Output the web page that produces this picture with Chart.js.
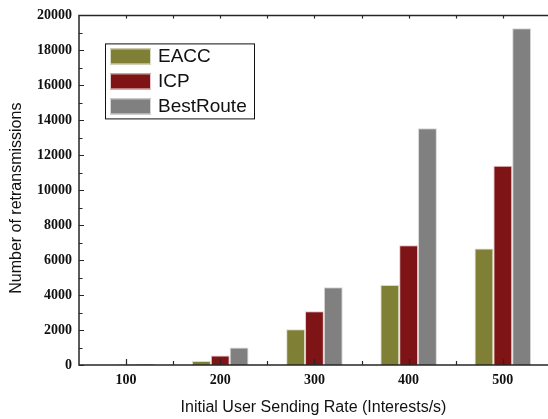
<!DOCTYPE html>
<html>
<head>
<meta charset="utf-8">
<script src="https://cdn.jsdelivr.net/npm/chart.js@4/dist/chart.umd.min.js"></script>
<style>
html,body{margin:0;padding:0;background:#fff;overflow:hidden;}
#wrap{width:548px;height:419px;position:relative;}
</style>
</head>
<body>
<div id="wrap"><canvas id="c" width="548" height="419"></canvas></div>
<script>
// ---- data ----
const rates = [100, 200, 300, 400, 500];
const eaccValues = [0, 230, 2050, 4570, 6660];
const icpValues = [30, 550, 3080, 6850, 11400];
const bestRouteValues = [60, 1000, 4450, 13550, 19270];
const seriesNames = ['EACC', 'ICP', 'BestRoute'];
const yTickValues = [0, 2000, 4000, 6000, 8000, 10000, 12000, 14000, 16000, 18000, 20000];
const xTickValues = [100, 200, 300, 400, 500];
const yTitle = 'Number of retransmissions';
const xTitle = 'Initial User Sending Rate (Interests/s)';

const fills = ['#7f7f35', '#7f1417', '#808080'];
const edges = ['#dcdcc6', '#e6c6c6', '#d6d6d6'];

function pts(vals){ return rates.map((r,i)=>({x:r, y:vals[i]})); }

const axisColor = '#262626';

const framePlugin = {
  id: 'frame',
  afterDatasetsDraw(chart){
    const ctx = chart.ctx, a = chart.chartArea;
    const xs = chart.scales.x, ys = chart.scales.y;
    ctx.save();
    ctx.strokeStyle = axisColor;
    ctx.lineWidth = 1.5;
    ctx.beginPath();
    ctx.moveTo(a.left, a.top); ctx.lineTo(a.left, a.bottom);
    ctx.moveTo(a.left - 0.75, a.bottom); ctx.lineTo(a.right + 2, a.bottom);
    ctx.moveTo(a.left - 0.75, a.top); ctx.lineTo(a.right + 2, a.top);
    ctx.stroke();
    ctx.lineWidth = 1.2;
    ctx.beginPath();
    for (let v = 0; v <= 20000; v += 1000) {
      const y = Math.round(ys.getPixelForValue(v)) + 0.5;
      const len = (v % 2000 === 0) ? 5 : 3.5;
      ctx.moveTo(a.left, y); ctx.lineTo(a.left + len, y);
    }
    for (let v = 100; v <= 550; v += 50) {
      const x = Math.round(xs.getPixelForValue(v)) + 0.5;
      if (x > a.right) break;
      const len = (v % 100 === 0) ? 6 : 4;
      ctx.moveTo(x, a.bottom); ctx.lineTo(x, a.bottom - len);
      ctx.moveTo(x, a.top); ctx.lineTo(x, a.top + 3);
    }
    ctx.stroke();

    // y-axis title
    ctx.save();
    ctx.translate(17, (a.top + a.bottom) / 2 + 8);
    ctx.rotate(-Math.PI / 2);
    ctx.fillStyle = '#111';
    ctx.font = '16px "Liberation Sans", Arial, sans-serif';
    ctx.textAlign = 'center';
    ctx.textBaseline = 'middle';
    ctx.fillText(yTitle, 0, 0);
    ctx.restore();

    // legend
    const lx = a.left + 26, ly = a.top + 28, lw = 149, lh = 75;
    ctx.fillStyle = '#fff';
    ctx.fillRect(lx, ly, lw, lh);
    ctx.strokeStyle = '#111';
    ctx.lineWidth = 1;
    ctx.strokeRect(lx + 0.5, ly + 0.5, lw, lh);
    ctx.font = '19px "Liberation Sans", Arial, sans-serif';
    ctx.textBaseline = 'middle';
    ctx.textAlign = 'left';
    chart.data.datasets.forEach((ds, i) => {
      const sy = ly + 5 + i * 25;
      ctx.fillStyle = ds.backgroundColor;
      ctx.fillRect(lx + 5, sy, 41, 16);
      ctx.strokeStyle = ds.borderColor;
      ctx.strokeRect(lx + 5.5, sy + 0.5, 40, 15);
      ctx.fillStyle = '#111';
      ctx.fillText(ds.label, lx + 53, sy + 8.5);
    });
    ctx.restore();
  }
};

new Chart(document.getElementById('c'), {
  type: 'bar',
  data: {
    datasets: [
      {label: seriesNames[0], data: pts(eaccValues), backgroundColor: fills[0], borderColor: edges[0], borderWidth: 1},
      {label: seriesNames[1], data: pts(icpValues), backgroundColor: fills[1], borderColor: edges[1], borderWidth: 1},
      {label: seriesNames[2], data: pts(bestRouteValues), backgroundColor: fills[2], borderColor: edges[2], borderWidth: 1}
    ]
  },
  options: {
    responsive: false,
    animation: false,
    events: [],
    layout: {padding: {top: 14, right: 0, left: 0, bottom: 0}},
    datasets: {bar: {categoryPercentage: 0.6, barPercentage: 1.0}},
    plugins: {legend: {display: false}, tooltip: {enabled: false}},
    scales: {
      x: {
        type: 'linear',
        offset: false,
        min: 50,
        max: 548,
        grid: {display: false, drawTicks: false, offset: false},
        border: {display: false},
        afterBuildTicks: s => { s.ticks = xTickValues.map(v => ({value: v})); },
        afterFit: s => { s.height = 54; },
        ticks: {
          padding: 7,
          color: '#111',
          callback: v => String(v),
          font: {family: '"Liberation Serif", "Times New Roman", serif', weight: 'bold', size: 14}
        },
        title: {
          display: true,
          text: xTitle,
          color: '#111',
          font: {family: '"Liberation Sans", Arial, sans-serif', size: 16},
          padding: {top: 4, bottom: 2}
        }
      },
      y: {
        min: 0,
        max: 20000,
        grid: {display: false, drawTicks: false},
        border: {display: false},
        afterBuildTicks: s => { s.ticks = yTickValues.map(v => ({value: v})); },
        afterFit: s => { s.width = 79; },
        ticks: {
          padding: 7,
          color: '#111',
          callback: v => String(v),
          font: {family: '"Liberation Serif", "Times New Roman", serif', weight: 'bold', size: 14}
        },
        title: {display: false}
      }
    }
  },
  plugins: [framePlugin]
});
</script>
</body>
</html>
